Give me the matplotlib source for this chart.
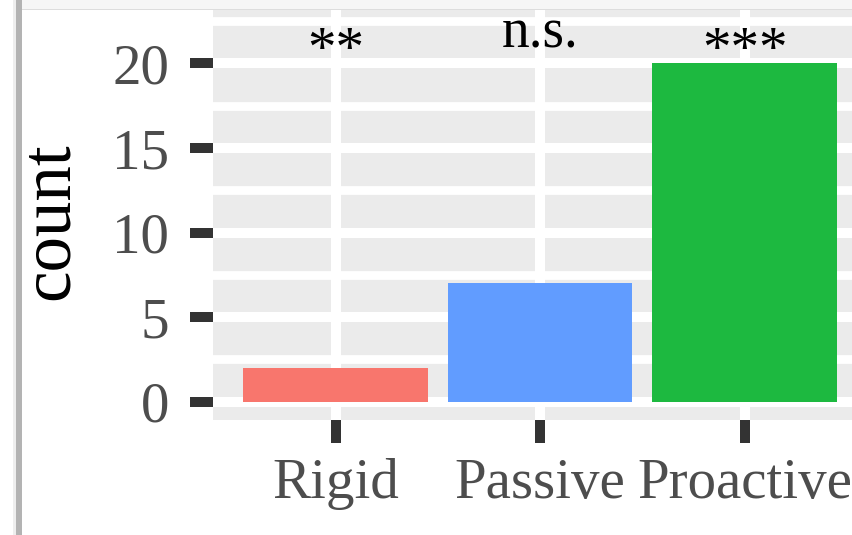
import matplotlib
matplotlib.use("Agg")
import matplotlib.pyplot as plt
from matplotlib.patches import Rectangle
from matplotlib.ticker import MultipleLocator

# data
categories = ["Rigid", "Passive", "Proactive"]
counts = [2, 7, 20]
bar_colors = ["#F8766D", "#619CFF", "#1DB940"]
signif = ["**", "n.s.", "***"]
yticks = [0, 5, 10, 15, 20]

plt.rcParams["font.family"] = ["Liberation Serif", "DejaVu Serif"]

W, H = 852, 535
fig = plt.figure(figsize=(W / 100, H / 100), dpi=100)

# panel: left edge at x=212px, top at y=10px, bottom at y=420px, runs off the right edge
px_per_cat = 204.5
left = 212.8
xmin, xmax = -0.6, 2.6
ax = fig.add_axes([left / W, (H - 420) / H, (xmax - xmin) * px_per_cat / W, 410 / H])
ax.set_facecolor("#EBEBEB")

x = list(range(len(categories)))
ax.bar(x, counts, width=0.9, color=bar_colors, zorder=3)

ax.set_xlim(xmin, xmax)
ax.set_ylim(-1.08, 23.16)
ax.set_xticks(x)
ax.set_xticklabels(categories)
ax.set_yticks(yticks)
ax.yaxis.set_minor_locator(MultipleLocator(2.5))

ax.grid(which="major", color="white", linewidth=7.2, zorder=1)
ax.grid(which="minor", axis="y", color="white", linewidth=6.3, zorder=1)
ax.set_axisbelow(True)
for s in ax.spines.values():
    s.set_visible(False)

ax.tick_params(axis="both", which="major", length=16.5, width=7.2, color="#333333",
               labelsize=41, labelcolor="#4D4D4D")
ax.tick_params(axis="y", pad=15)
ax.tick_params(axis="x", pad=11)
ax.tick_params(which="minor", length=0)

# significance labels above the bars
for xi, lab in zip(x, signif):
    if lab.startswith("*"):
        ax.text(xi, 19.85, lab, ha="center", va="baseline", fontsize=41,
                color="black", zorder=4)
    else:
        ax.text(xi, 20.92, lab, ha="center", va="baseline", fontsize=40,
                color="black", zorder=4)

fig.text(68 / W, 1 - 221 / H, "count", rotation=90, rotation_mode="anchor",
         ha="center", va="baseline", fontsize=51, color="black")

# screenshot frame: faint strip at the top and grey bar at the left
fig.patches.append(Rectangle((13 / W, 1 - 9 / H), 1, 9 / H, transform=fig.transFigure,
                             facecolor="#F6F6F6", edgecolor="none", zorder=0))
fig.patches.append(Rectangle((13 / W, 1 - 10 / H), 1, 1.2 / H, transform=fig.transFigure,
                             facecolor="#DDDDDD", edgecolor="none", zorder=0))
fig.patches.append(Rectangle((13 / W, 0), 3 / W, 1, transform=fig.transFigure,
                             facecolor="#EEEEEE", edgecolor="none", zorder=0))
fig.patches.append(Rectangle((16 / W, 0), 5.5 / W, 1, transform=fig.transFigure,
                             facecolor="#B3B3B3", edgecolor="none", zorder=0))

fig.savefig("out.png", dpi=100)
